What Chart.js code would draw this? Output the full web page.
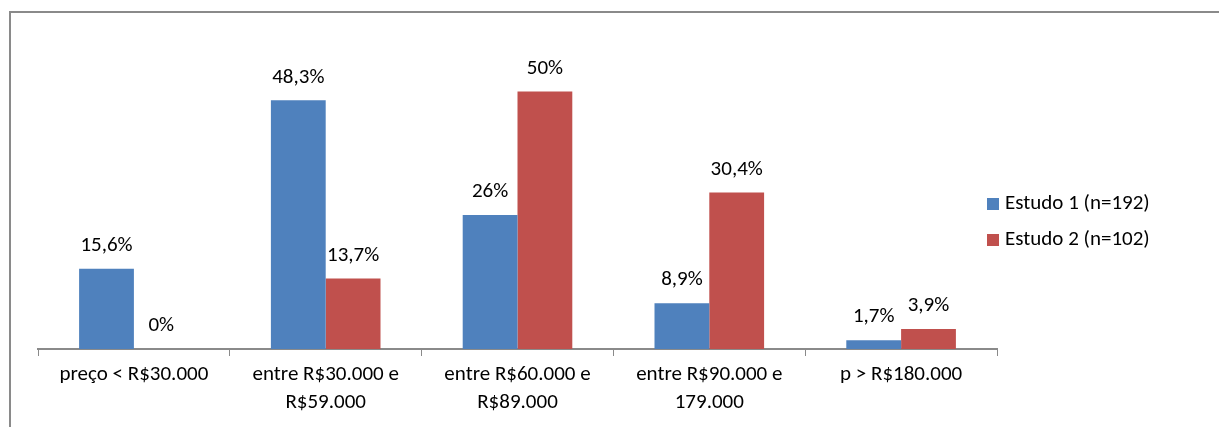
<!DOCTYPE html>
<html>
<head>
<meta charset="utf-8">
<script src="https://cdn.jsdelivr.net/npm/chart.js@4/dist/chart.umd.min.js"></script>
<style>
    html, body { margin: 0; padding: 0; background: #fff; }
    #wrap { position: relative; width: 1219px; height: 427px; overflow: hidden; }
    #frame {
        position: absolute; left: 9px; top: 11px; width: 1300px; height: 500px;
        border-top: 2px solid #8a8a8a; border-left: 2px solid #8a8a8a;
    }
    canvas { position: absolute; left: 0; top: 0; }
</style>
</head>
<body>
<div id="wrap">
    <div id="frame"></div>
    <canvas id="chart" width="1219" height="427"></canvas>
</div>
<script>
// categories (multi-line labels)
const categories = [
    ['preço < R$30.000'],
    ['entre R$30.000 e', 'R$59.000'],
    ['entre R$60.000 e', 'R$89.000'],
    ['entre R$90.000 e', '179.000'],
    ['p > R$180.000']
];
const seriesNames = ['Estudo 1 (n=192)', 'Estudo 2 (n=102)'];
const estudo1 = [15.6, 48.3, 26, 8.9, 1.7];
const estudo2 = [0, 13.7, 50, 30.4, 3.9];
const colors = ['#4F81BD', '#C0504D'];

const FONT = 'Carlito, Lato, sans-serif';
const FONT_SIZE = 21;

function fmt(v) {
    return String(v).replace('.', ',') + '%';
}

// value labels above each bar
const valueLabels = {
    id: 'valueLabels',
    afterDatasetsDraw(chart) {
        const ctx = chart.ctx;
        ctx.save();
        ctx.font = FONT_SIZE + 'px ' + FONT;
        ctx.fillStyle = '#000';
        ctx.textAlign = 'center';
        ctx.textBaseline = 'middle';
        chart.data.datasets.forEach((ds, di) => {
            const meta = chart.getDatasetMeta(di);
            meta.data.forEach((bar, i) => {
                ctx.fillText(fmt(ds.data[i]), bar.x, bar.y - 23);
            });
        });
        ctx.restore();
    }
};

// legend on the right, like the spreadsheet one
const sideLegend = {
    id: 'sideLegend',
    afterDraw(chart) {
        const ctx = chart.ctx;
        ctx.save();
        ctx.font = FONT_SIZE + 'px ' + FONT;
        ctx.textBaseline = 'middle';
        ctx.textAlign = 'left';
        chart.data.datasets.forEach((ds, di) => {
            const cy = 204 + di * 36;
            ctx.fillStyle = ds.backgroundColor;
            ctx.fillRect(987, cy - 6, 12, 12);
            ctx.fillStyle = '#000';
            ctx.fillText(ds.label, 1005, cy);
        });
        ctx.restore();
    }
};

new Chart(document.getElementById('chart'), {
    type: 'bar',
    data: {
        labels: categories,
        datasets: [
            { label: seriesNames[0], data: estudo1, backgroundColor: colors[0] },
            { label: seriesNames[1], data: estudo2, backgroundColor: colors[1] }
        ]
    },
    options: {
        responsive: false,
        animation: false,
        devicePixelRatio: 1,
        layout: { padding: { left: 38, right: 222, top: 40, bottom: 0 } },
        datasets: {
            bar: { categoryPercentage: 2 / 3.5, barPercentage: 1, borderWidth: 0 }
        },
        scales: {
            x: {
                grid: {
                    offset: true,
                    drawOnChartArea: false,
                    drawTicks: true,
                    tickLength: 7,
                    color: '#8a8a8a',
                    lineWidth: 1
                },
                border: { display: true, color: '#8a8a8a', width: 2 },
                ticks: {
                    color: '#000',
                    padding: 5,
                    maxRotation: 0,
                    autoSkip: false,
                    font: { family: FONT, size: FONT_SIZE, lineHeight: 28 / FONT_SIZE }
                },
                afterFit(scale) { scale.height = 78; }
            },
            y: {
                display: false,
                min: 0,
                max: 60
            }
        },
        plugins: {
            legend: { display: false },
            tooltip: { enabled: false }
        }
    },
    plugins: [valueLabels, sideLegend]
});
</script>
</body>
</html>
